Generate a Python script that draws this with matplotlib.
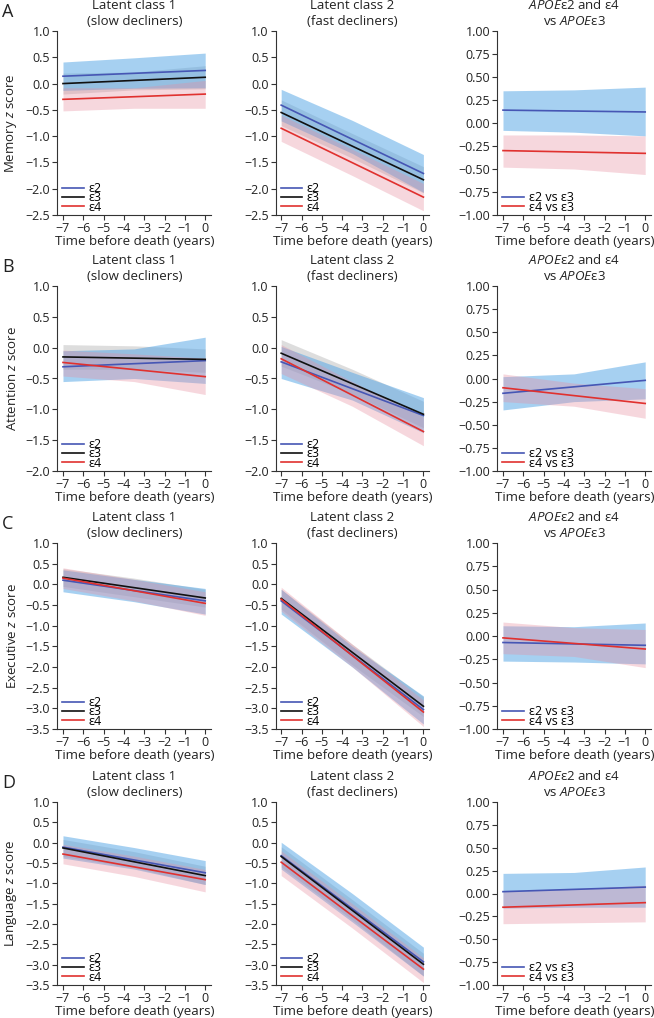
import matplotlib
matplotlib.use("Agg")
import matplotlib.pyplot as plt
from matplotlib.ticker import FuncFormatter

plt.rcParams["font.family"] = ["Open Sans", "DejaVu Sans"]
plt.rcParams["mathtext.fontset"] = "custom"
plt.rcParams["mathtext.rm"] = "Open Sans"
plt.rcParams["mathtext.it"] = "Open Sans:italic"

# years before death; lines are straight, bands read at three points
TIME = [-7, 0]
TIME_BAND = [-7, -3.5, 0]

DOMAINS = ["Memory", "Attention", "Executive", "Language"]
LETTERS = ["A", "B", "C", "D"]
YLIMS = [(-2.5, 1.0), (-2.0, 1.0), (-3.5, 1.0), (-3.5, 1.0)]

# ---- Memory ----
mem_slow_line = {"e2": [0.14, 0.25], "e3": [0.00, 0.12], "e4": [-0.30, -0.20]}
mem_slow_hi = {"e2": [0.41, 0.49, 0.58], "e3": [0.20, 0.22, 0.34], "e4": [-0.08, -0.08, 0.06]}
mem_slow_lo = {"e2": [-0.13, -0.09, -0.08], "e3": [-0.20, -0.12, -0.10], "e4": [-0.52, -0.47, -0.47]}

mem_fast_line = {"e2": [-0.41, -1.71], "e3": [-0.55, -1.83], "e4": [-0.85, -2.16]}
mem_fast_hi = {"e2": [-0.11, -0.70, -1.35], "e3": [-0.31, -0.95, -1.58], "e4": [-0.60, -1.25, -1.90]}
mem_fast_lo = {"e2": [-0.71, -1.33, -2.07], "e3": [-0.80, -1.42, -2.08], "e4": [-1.10, -1.75, -2.42]}

mem_apoe_line = {"e2": [0.14, 0.12], "e4": [-0.30, -0.33]}
mem_apoe_hi = {"e2": [0.35, 0.36, 0.39], "e4": [-0.13, -0.13, -0.14]}
mem_apoe_lo = {"e2": [-0.08, -0.10, -0.14], "e4": [-0.48, -0.50, -0.56]}

# ---- Attention ----
att_slow_line = {"e2": [-0.31, -0.21], "e3": [-0.15, -0.19], "e4": [-0.24, -0.47]}
att_slow_hi = {"e2": [-0.05, -0.02, 0.17], "e3": [0.05, 0.03, -0.02], "e4": [-0.04, -0.10, -0.17]}
att_slow_lo = {"e2": [-0.55, -0.50, -0.58], "e3": [-0.35, -0.35, -0.40], "e4": [-0.46, -0.55, -0.76]}

att_fast_line = {"e2": [-0.23, -1.10], "e3": [-0.09, -1.08], "e4": [-0.18, -1.36]}
att_fast_hi = {"e2": [0.02, -0.40, -0.81], "e3": [0.13, -0.35, -0.87], "e4": [0.05, -0.55, -1.12]}
att_fast_lo = {"e2": [-0.50, -0.85, -1.38], "e3": [-0.30, -0.75, -1.30], "e4": [-0.42, -0.95, -1.59]}

att_apoe_line = {"e2": [-0.16, -0.02], "e4": [-0.10, -0.27]}
att_apoe_hi = {"e2": [0.02, 0.05, 0.18], "e4": [0.05, -0.05, -0.11]}
att_apoe_lo = {"e2": [-0.34, -0.25, -0.22], "e4": [-0.25, -0.30, -0.43]}

# ---- Executive ----
exe_slow_line = {"e2": [0.10, -0.40], "e3": [0.17, -0.33], "e4": [0.15, -0.46]}
exe_slow_hi = {"e2": [0.35, 0.12, -0.10], "e3": [0.38, 0.15, -0.12], "e4": [0.40, 0.12, -0.18]}
exe_slow_lo = {"e2": [-0.18, -0.42, -0.72], "e3": [-0.05, -0.30, -0.55], "e4": [-0.10, -0.40, -0.75]}

exe_fast_line = {"e2": [-0.40, -3.03], "e3": [-0.34, -2.95], "e4": [-0.36, -3.09]}
exe_fast_hi = {"e2": [-0.12, -1.50, -2.70], "e3": [-0.12, -1.45, -2.72], "e4": [-0.07, -1.45, -2.80]}
exe_fast_lo = {"e2": [-0.72, -2.00, -3.38], "e3": [-0.60, -1.95, -3.20], "e4": [-0.65, -2.00, -3.44]}

exe_apoe_line = {"e2": [-0.07, -0.10], "e4": [-0.02, -0.14]}
exe_apoe_hi = {"e2": [0.11, 0.10, 0.14], "e4": [0.15, 0.09, 0.07]}
exe_apoe_lo = {"e2": [-0.27, -0.28, -0.30], "e4": [-0.19, -0.22, -0.34]}

# ---- Language ----
lan_slow_line = {"e2": [-0.11, -0.74], "e3": [-0.13, -0.81], "e4": [-0.28, -0.91]}
lan_slow_hi = {"e2": [0.17, -0.12, -0.44], "e3": [0.08, -0.22, -0.58], "e4": [-0.04, -0.33, -0.66]}
lan_slow_lo = {"e2": [-0.38, -0.65, -1.03], "e3": [-0.34, -0.62, -1.03], "e4": [-0.52, -0.83, -1.21]}

lan_fast_line = {"e2": [-0.32, -2.93], "e3": [-0.34, -2.99], "e4": [-0.48, -3.11]}
lan_fast_hi = {"e2": [0.01, -1.25, -2.57], "e3": [-0.10, -1.40, -2.72], "e4": [-0.20, -1.50, -2.83]}
lan_fast_lo = {"e2": [-0.65, -1.95, -3.28], "e3": [-0.60, -1.90, -3.28], "e4": [-0.81, -2.10, -3.44]}

lan_apoe_line = {"e2": [0.02, 0.07], "e4": [-0.15, -0.10]}
lan_apoe_hi = {"e2": [0.22, 0.23, 0.29], "e4": [0.02, 0.05, 0.09]}
lan_apoe_lo = {"e2": [-0.16, -0.15, -0.15], "e4": [-0.33, -0.32, -0.31]}

PANELS = [
    [(mem_slow_line, mem_slow_lo, mem_slow_hi), (mem_fast_line, mem_fast_lo, mem_fast_hi), (mem_apoe_line, mem_apoe_lo, mem_apoe_hi)],
    [(att_slow_line, att_slow_lo, att_slow_hi), (att_fast_line, att_fast_lo, att_fast_hi), (att_apoe_line, att_apoe_lo, att_apoe_hi)],
    [(exe_slow_line, exe_slow_lo, exe_slow_hi), (exe_fast_line, exe_fast_lo, exe_fast_hi), (exe_apoe_line, exe_apoe_lo, exe_apoe_hi)],
    [(lan_slow_line, lan_slow_lo, lan_slow_hi), (lan_fast_line, lan_fast_lo, lan_fast_hi), (lan_apoe_line, lan_apoe_lo, lan_apoe_hi)],
]

TITLES = ["Latent class 1\n(slow decliners)",
          "Latent class 2\n(fast decliners)",
          "$APOE$ε2 and ε4\nvs $APOE$ε3"]

LINE_COL = {"e2": "#4656b4", "e3": "#111111", "e4": "#e0312f"}
BAND_COL = {"e2": ("#4ea3e5", 0.5), "e3": ("#a0a0a0", 0.35), "e4": ("#e88ea0", 0.35)}
LABELS = {"e2": "ε2", "e3": "ε3", "e4": "ε4"}
LABELS_VS = {"e2": "ε2 vs ε3", "e4": "ε4 vs ε3"}

W, H = 654, 1018
fig = plt.figure(figsize=(W / 100, H / 100), dpi=100)

col_left = [57.3, 275.5, 497.3]
col_w = 154
row_top = [31, 286, 543, 802]
row_bot = [215, 471, 729, 985]

def fmt(dec):
    return FuncFormatter(lambda v, p: f"{v:.{dec}f}".replace("-", "\u2212"))

for r in range(4):
    for c in range(3):
        ax = fig.add_axes([col_left[c] / W, 1 - row_bot[r] / H, col_w / W,
                           (row_bot[r] - row_top[r]) / H])
        line, lo, hi = PANELS[r][c]
        groups = ["e3", "e2", "e4"] if c < 2 else ["e2", "e4"]
        for g in groups:
            col, a = BAND_COL[g]
            ax.fill_between(TIME_BAND, lo[g], hi[g], color=col, alpha=a, lw=0)
        handles = []
        for g in ["e2", "e3", "e4"]:
            if g not in line:
                continue
            lab = LABELS[g] if c < 2 else LABELS_VS[g]
            h, = ax.plot(TIME, line[g], color=LINE_COL[g], lw=1.2, label=lab)
            handles.append(h)

        ax.set_xlim(-7.28, 0.3)
        if c < 2:
            ymin, ymax = YLIMS[r]
            ax.set_ylim(ymin, ymax)
            n = int(round((ymax - ymin) / 0.5))
            ax.set_yticks([ymin + 0.5 * i for i in range(n + 1)])
            ax.yaxis.set_major_formatter(fmt(1))
        else:
            ax.set_ylim(-1.0, 1.0)
            ax.set_yticks([-1 + 0.25 * i for i in range(9)])
            ax.yaxis.set_major_formatter(fmt(2))
        ax.set_xticks(range(-7, 1))
        ax.xaxis.set_major_formatter(fmt(0))
        for s in ["top", "right"]:
            ax.spines[s].set_visible(False)
        for s in ["left", "bottom"]:
            ax.spines[s].set_color("#333333")
            ax.spines[s].set_linewidth(0.8)
        ax.tick_params(length=3.5, width=0.8, color="#333333", labelsize=9,
                       labelcolor="#222222", pad=1.5)
        ax.set_xlabel("Time before death (years)", fontsize=9.5, labelpad=0,
                      color="#222222")
        ax.set_title(TITLES[c], fontsize=9.5, pad=4, linespacing=1.3,
                     color="#222222")
        if c == 0:
            ax.set_ylabel(f"{DOMAINS[r]} $z$ score", fontsize=9.5, color="#222222")
            ax.yaxis.set_label_coords(-0.25, 0.5)
        ax.legend(handles=handles, loc="lower left", bbox_to_anchor=(0.0, -0.02),
                  frameon=False, fontsize=9, handlelength=1.7, handletextpad=0.4,
                  labelspacing=-0.3, borderaxespad=0.2, borderpad=0.2)

    fig.text(2 / W, 1 - (row_top[r] - 19) / H, LETTERS[r], fontsize=13,
             va="center", ha="left", color="#222222")

fig.savefig("out.png", dpi=100)
